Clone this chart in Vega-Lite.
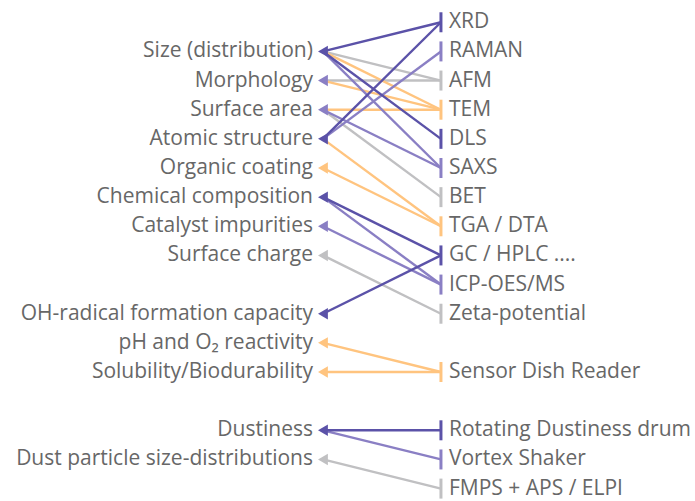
{
  "$schema": "https://vega.github.io/schema/vega-lite/v6.json",
  "width": 695,
  "height": 501,
  "autosize": {"type": "fit", "contains": "padding"},
  "padding": 0,
  "background": "white",
  "config": {"view": {"stroke": null}},
  "datasets": {
    "properties": [
      {"name": "Size (distribution)", "row": 1, "group": "dark"},
      {"name": "Morphology", "row": 2, "group": "medium"},
      {"name": "Surface area", "row": 3, "group": "medium"},
      {"name": "Atomic structure", "row": 4, "group": "dark"},
      {"name": "Organic coating", "row": 5, "group": "orange"},
      {"name": "Chemical composition", "row": 6, "group": "dark"},
      {"name": "Catalyst impurities", "row": 7, "group": "medium"},
      {"name": "Surface charge", "row": 8, "group": "gray"},
      {"name": "OH-radical formation capacity", "row": 10, "group": "dark"},
      {"name": "pH and O₂ reactivity", "row": 11, "group": "orange"},
      {"name": "Solubility/Biodurability", "row": 12, "group": "orange"},
      {"name": "Dustiness", "row": 14, "group": "dark"},
      {"name": "Dust particle size-distributions", "row": 15, "group": "gray"}
    ],
    "methods": [
      {"name": "XRD", "row": 0, "group": "dark"},
      {"name": "RAMAN", "row": 1, "group": "medium"},
      {"name": "AFM", "row": 2, "group": "gray"},
      {"name": "TEM", "row": 3, "group": "orange"},
      {"name": "DLS", "row": 4, "group": "dark"},
      {"name": "SAXS", "row": 5, "group": "medium"},
      {"name": "BET", "row": 6, "group": "gray"},
      {"name": "TGA / DTA", "row": 7, "group": "orange"},
      {"name": "GC / HPLC ....", "row": 8, "group": "dark"},
      {"name": "ICP-OES/MS", "row": 9, "group": "medium"},
      {"name": "Zeta-potential", "row": 10, "group": "gray"},
      {"name": "Sensor Dish Reader", "row": 12, "group": "orange"},
      {"name": "Rotating Dustiness drum", "row": 14, "group": "dark"},
      {"name": "Vortex Shaker", "row": 15, "group": "medium"},
      {"name": "FMPS + APS / ELPI", "row": 16, "group": "gray"}
    ],
    "links": [
      {"property": "Size (distribution)", "method": "AFM"},
      {"property": "Morphology", "method": "AFM"},
      {"property": "Surface area", "method": "BET"},
      {"property": "Surface charge", "method": "Zeta-potential"},
      {"property": "Dust particle size-distributions", "method": "FMPS + APS / ELPI"},
      {"property": "Size (distribution)", "method": "TEM"},
      {"property": "Morphology", "method": "TEM"},
      {"property": "Surface area", "method": "TEM"},
      {"property": "Atomic structure", "method": "TGA / DTA"},
      {"property": "Organic coating", "method": "TGA / DTA"},
      {"property": "pH and O₂ reactivity", "method": "Sensor Dish Reader"},
      {"property": "Solubility/Biodurability", "method": "Sensor Dish Reader"},
      {"property": "Atomic structure", "method": "RAMAN"},
      {"property": "Size (distribution)", "method": "SAXS"},
      {"property": "Surface area", "method": "SAXS"},
      {"property": "Chemical composition", "method": "ICP-OES/MS"},
      {"property": "Catalyst impurities", "method": "ICP-OES/MS"},
      {"property": "Dustiness", "method": "Vortex Shaker"},
      {"property": "Size (distribution)", "method": "XRD"},
      {"property": "Atomic structure", "method": "XRD"},
      {"property": "Size (distribution)", "method": "DLS"},
      {"property": "Chemical composition", "method": "GC / HPLC ...."},
      {"property": "OH-radical formation capacity", "method": "GC / HPLC ...."},
      {"property": "Dustiness", "method": "Rotating Dustiness drum"}
    ]
  },
  "layer": [
    {
      "data": {"name": "links"},
      "transform": [
        {"lookup": "property", "from": {"data": {"name": "properties"}, "key": "name", "fields": ["row"]}, "as": ["prow"]},
        {"lookup": "method", "from": {"data": {"name": "methods"}, "key": "name", "fields": ["row", "group"]}, "as": ["mrow", "mgroup"]}
      ],
      "mark": {"type": "rule", "strokeWidth": 2.4},
      "encoding": {
        "x": {"datum": 0, "type": "quantitative", "scale": {"domain": [-2.737, 3.153], "nice": false, "zero": false}, "axis": null},
        "x2": {"datum": 1},
        "y": {"field": "prow", "type": "quantitative", "scale": {"domain": [-0.764, 16.254], "reverse": true, "nice": false, "zero": false}, "axis": null},
        "y2": {"field": "mrow"},
        "color": {"field": "mgroup", "type": "nominal", "scale": {"domain": ["dark", "medium", "gray", "orange"], "range": ["#5b52a8", "#8a7fc4", "#c0c0c2", "#ffc47f"]}, "legend": null}
      }
    },
    {
      "data": {"name": "properties"},
      "mark": {"type": "point", "shape": "triangle-left", "filled": true, "opacity": 1, "size": 130},
      "encoding": {
        "x": {"datum": 0, "type": "quantitative"},
        "y": {"field": "row", "type": "quantitative"},
        "color": {"field": "group", "type": "nominal", "legend": null}
      }
    },
    {
      "data": {"name": "methods"},
      "mark": {"type": "rule", "strokeWidth": 3, "yOffset": -10, "y2Offset": 10},
      "encoding": {
        "x": {"datum": 1, "type": "quantitative"},
        "y": {"field": "row", "type": "quantitative"},
        "y2": {"field": "row"},
        "color": {"field": "group", "type": "nominal", "legend": null}
      }
    },
    {
      "data": {"name": "properties"},
      "mark": {"type": "text", "align": "right", "baseline": "middle", "dx": -10, "font": "Open Sans", "fontSize": 21, "fill": "#676767"},
      "encoding": {
        "x": {"datum": 0, "type": "quantitative"},
        "y": {"field": "row", "type": "quantitative"},
        "text": {"field": "name"}
      }
    },
    {
      "data": {"name": "methods"},
      "mark": {"type": "text", "align": "left", "baseline": "middle", "dx": 8, "font": "Open Sans", "fontSize": 21, "fill": "#676767"},
      "encoding": {
        "x": {"datum": 1, "type": "quantitative"},
        "y": {"field": "row", "type": "quantitative"},
        "text": {"field": "name"}
      }
    }
  ]
}
